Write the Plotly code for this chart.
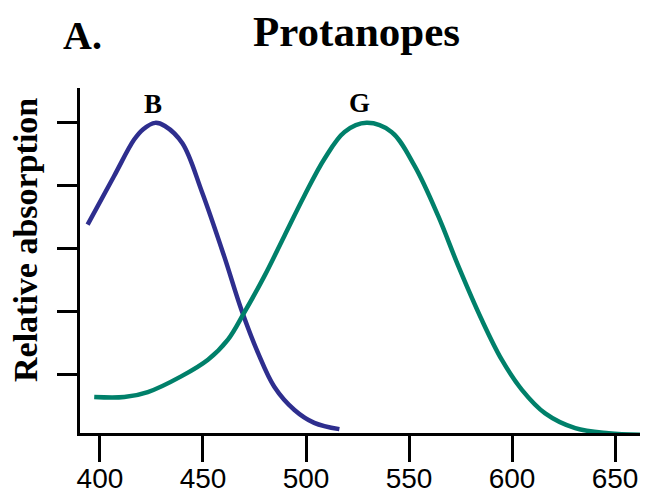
import plotly.graph_objects as go

# Wavelength (nm) and relative absorption
blue_nm = [394.0, 406.8, 416.5, 421.0, 426.8, 431.5, 440.0, 449.5, 460.3, 468.6, 476.7, 484.6, 494.4, 504.0, 516.2]
blue_val = [0.676, 0.830, 0.946, 0.980, 1.0, 0.990, 0.935, 0.780, 0.575, 0.406, 0.268, 0.160, 0.086, 0.045, 0.025]

green_nm = [397.2, 411.8, 423.2, 439.4, 452.4, 462.1, 470.0, 479.8, 489.5, 499.2, 508.9, 518.7, 529.4,
            541.5, 552.7, 564.2, 574.0, 585.3, 595.0, 604.8, 616.1, 630.7, 646.9, 667.0]
green_val = [0.127, 0.127, 0.143, 0.193, 0.246, 0.310, 0.396, 0.512, 0.640, 0.768, 0.885, 0.971, 1.0,
             0.971, 0.863, 0.703, 0.543, 0.373, 0.246, 0.150, 0.075, 0.028, 0.012, 0.006]

x_ticks = [400, 450, 500, 550, 600, 650]
y_ticks = [0.2, 0.4, 0.6, 0.8, 1.0]

title = "Protanopes"
panel = "A."
ylabel = "Relative absorption"
curve_labels = ["B", "G"]

serif = "Liberation Serif, Times New Roman, serif"

fig = go.Figure()
fig.add_trace(go.Scatter(x=blue_nm, y=blue_val, mode="lines",
                         line=dict(color="#2e2e8e", width=4.5, shape="spline", smoothing=1.0),
                         showlegend=False, hoverinfo="skip"))
fig.add_trace(go.Scatter(x=green_nm, y=green_val, mode="lines",
                         line=dict(color="#00806a", width=4.5, shape="spline", smoothing=1.0),
                         showlegend=False, hoverinfo="skip"))

# page body has an 8px margin; the figure is sized so it fits the 648x493 window
OFF = 8
W, H = 648 - OFF, 493 - OFF
L, R, T, B = 80 - OFF, 0, 88 - OFF, 60

fig.update_layout(
    template="none",
    width=W, height=H,
    margin=dict(l=L, r=R, t=T, b=B, pad=0),
    paper_bgcolor="white", plot_bgcolor="white",
    xaxis=dict(range=[390.3, 666.0], tickvals=x_ticks, ticktext=[str(v) for v in x_ticks],
               automargin=False,
               showgrid=False, zeroline=False, showline=True, linecolor="black", linewidth=3,
               ticks="outside", ticklen=26, tickwidth=3, tickcolor="black",
               ticklabelstandoff=-8,
               tickfont=dict(family="Liberation Sans, Arial, sans-serif", size=28, color="black")),
    yaxis=dict(range=[0.0127, 1.111], tickvals=y_ticks, showticklabels=False, automargin=False,
               showgrid=False, zeroline=False, showline=True, linecolor="black", linewidth=3,
               ticks="outside", ticklen=20, tickwidth=3, tickcolor="black"),
)

pw, ph = W - L - R, H - T - B


def ann(text, px, py, size, angle=0):
    # px, py are positions in the reference image; convert to paper coords
    fx, fy = px - OFF, py - OFF
    return dict(text=f"<b>{text}</b>", x=(fx - L) / pw, y=(H - B - fy) / ph,
                xref="paper", yref="paper", xanchor="center", yanchor="middle",
                showarrow=False, textangle=angle,
                font=dict(family=serif, size=size, color="black"))


fig.update_layout(annotations=[
    ann(title, 356.5, 31, 43),
    ann(panel, 82.5, 35, 40),
    ann(ylabel, 25, 240, 34, -90),
    ann(curve_labels[0], 153, 104, 27),
    ann(curve_labels[1], 359.7, 103, 27),
])

fig.write_html("out.html")
